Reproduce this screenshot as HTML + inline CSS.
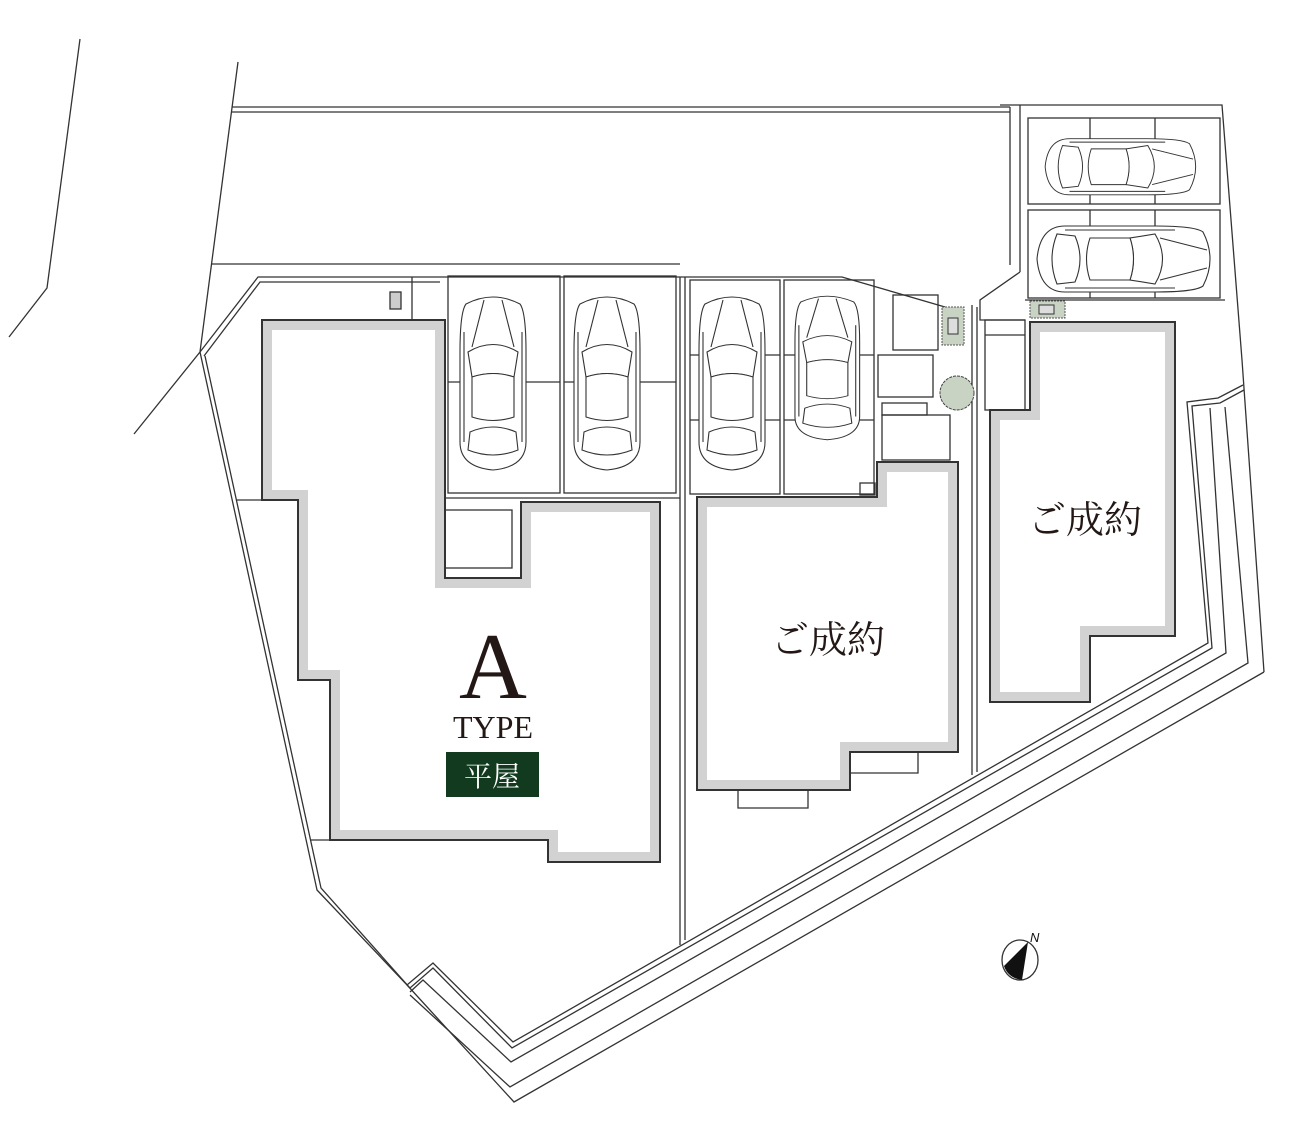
<!DOCTYPE html>
<html><head><meta charset="utf-8"><style>
html,body{margin:0;padding:0;background:#fff}
svg{display:block}
</style></head><body>
<svg width="1300" height="1147" viewBox="0 0 1300 1147" xmlns="http://www.w3.org/2000/svg">
<defs>
<g id="car" fill="#fff" stroke="#333" stroke-width="1.1">
  <path d="M8 12 Q35 -2 62 12 Q68 20 68 60 L68 150 Q68 175 35 178 Q2 175 2 150 L2 60 Q2 20 8 12 Z"/>
  <path d="M10 60 Q35 45 60 60 L56 85 Q35 78 14 85 Z"/>
  <path d="M14 85 Q35 78 56 85 L56 125 Q35 132 14 125 Z"/>
  <path d="M12 140 Q35 130 58 140 L60 158 Q35 168 10 158 Z"/>
  <line x1="14" y1="55" x2="26" y2="8"/><line x1="56" y1="55" x2="44" y2="8"/>
  <line x1="6" y1="40" x2="6" y2="150"/><line x1="64" y1="40" x2="64" y2="150"/>
</g>
</defs>
<g fill="none" stroke="#333" stroke-width="1.3">
  <!-- far left lines -->
  <polyline points="80,39 47,288 9,337"/>
  <polyline points="238,62 200,352 134,434"/>
  <!-- top road -->
  <line x1="232" y1="107" x2="1010" y2="107"/>
  <line x1="232" y1="112" x2="1010" y2="112"/>
  <line x1="211" y1="264" x2="680" y2="264"/>
  <line x1="1010" y1="107" x2="1010" y2="265"/>
  <polyline points="200,352 258,277 680,277"/>
  <polyline points="204,356 260,282 440,282"/>
  <polyline points="680,277 842,277 945,307"/>
  <polyline points="1000,105 1222,105 1242,360 1264,672"/>
  <!-- right parking -->
  <rect x="1028" y="118" width="192" height="86"/>
  <rect x="1028" y="210" width="192" height="88"/>
  <line x1="1090" y1="118" x2="1090" y2="204"/><line x1="1155" y1="118" x2="1155" y2="204"/>
  <line x1="1090" y1="210" x2="1090" y2="298"/><line x1="1155" y1="210" x2="1155" y2="298"/>
  <line x1="1020" y1="105" x2="1020" y2="272"/>
  <polyline points="1020,272 980,300 980,320 1025,320"/>
  <line x1="1025" y1="300" x2="1225" y2="300"/>
  <!-- left lot boundary double -->
  <polyline points="200,352 317,890 407,985 433,963 513,1042 1208,643 1187,402 1218,398 1243,385"/>
  <polyline points="205,356 321,888 410,988 433,968 512,1048 1212,648 1192,406 1220,403 1244,390"/>
  <polyline points="410,992 423,980 511,1062 1226,653 1210,408"/>
  <polyline points="410,995 510,1087 1248,663 1225,407"/>
  <polyline points="407,985 514,1102 1264,672"/>
  <!-- division lines -->
  <line x1="680" y1="277" x2="680" y2="945"/><line x1="685" y1="277" x2="685" y2="940"/>
  <line x1="972" y1="305" x2="972" y2="775"/><line x1="977" y1="307" x2="977" y2="772"/>
  <line x1="236" y1="500" x2="262" y2="500"/><line x1="310" y1="840" x2="330" y2="840"/>
  <!-- parking A -->
  <rect x="448" y="276" width="112" height="217"/><rect x="564" y="276" width="112" height="217"/>
  <line x1="448" y1="382" x2="560" y2="382"/><line x1="564" y1="382" x2="676" y2="382"/>
  <line x1="412" y1="277" x2="412" y2="320"/>
  <line x1="445" y1="498" x2="680" y2="498"/>
  <rect x="445" y="510" width="67" height="58"/>
  <!-- parking B -->
  <rect x="690" y="280" width="90" height="214"/><rect x="784" y="280" width="90" height="214"/>
  <line x1="690" y1="355" x2="780" y2="355"/><line x1="690" y1="420" x2="780" y2="420"/>
  <line x1="784" y1="355" x2="874" y2="355"/><line x1="784" y1="420" x2="874" y2="420"/>
  <rect x="893" y="295" width="45" height="55"/>
  <rect x="878" y="355" width="55" height="42"/>
  <rect x="882" y="403" width="45" height="12"/>
  <rect x="882" y="415" width="68" height="45"/>
  <rect x="860" y="483" width="15" height="12"/>
  <rect x="985" y="320" width="40" height="90"/>
  <line x1="985" y1="335" x2="1025" y2="335"/>
  <rect x="390" y="292" width="11" height="17" fill="#ccc"/>
</g>
<!-- houses -->
<defs>
  <clipPath id="ca"><polygon id="pa" points="262,320 445,320 445,578 521,578 521,502 660,502 660,862 548,862 548,840 330,840 330,680 298,680 298,500 262,500"/></clipPath>
  <clipPath id="cb"><polygon points="697,497 877,497 877,462 958,462 958,752 850,752 850,790 697,790"/></clipPath>
  <clipPath id="cc"><polygon points="1030,322 1175,322 1175,636 1090,636 1090,702 990,702 990,410 1030,410"/></clipPath>
</defs>
<g fill="none" stroke="#d2d2d2" stroke-width="20">
  <polygon clip-path="url(#ca)" points="262,320 445,320 445,578 521,578 521,502 660,502 660,862 548,862 548,840 330,840 330,680 298,680 298,500 262,500"/>
  <polygon clip-path="url(#cb)" points="697,497 877,497 877,462 958,462 958,752 850,752 850,790 697,790"/>
  <polygon clip-path="url(#cc)" points="1030,322 1175,322 1175,636 1090,636 1090,702 990,702 990,410 1030,410"/>
</g>
<g fill="none" stroke="#333" stroke-width="2">
  <polygon points="262,320 445,320 445,578 521,578 521,502 660,502 660,862 548,862 548,840 330,840 330,680 298,680 298,500 262,500"/>
  <polygon points="697,497 877,497 877,462 958,462 958,752 850,752 850,790 697,790"/>
  <polygon points="1030,322 1175,322 1175,636 1090,636 1090,702 990,702 990,410 1030,410"/>
</g>
<g fill="none" stroke="#333" stroke-width="1.3">
  <polyline points="918,752 918,773 850,773"/>
  <polyline points="738,790 738,808 808,808 808,790"/>
</g>
<!-- cars -->
<use href="#car" transform="translate(458,292)"/>
<use href="#car" transform="translate(572,292)"/>
<use href="#car" transform="translate(697,292)"/>
<use href="#car" transform="translate(793,292) scale(0.98,0.83)"/>
<use href="#car" transform="translate(1200,137) rotate(90) scale(0.85,0.87)"/>
<use href="#car" transform="translate(1215,224) rotate(90) scale(1,1)"/>
<!-- greenery -->
<rect x="942" y="307" width="22" height="38" fill="#c9d3c4" stroke="#555" stroke-dasharray="2,1"/>
<rect x="948" y="318" width="10" height="16" fill="#ddd" stroke="#333"/>
<circle cx="957" cy="393" r="17" fill="#c9d3c4" stroke="#444" stroke-dasharray="3,1"/>
<rect x="1030" y="301" width="35" height="17" fill="#c9d3c4" stroke="#555" stroke-dasharray="2,1"/>
<rect x="1039" y="305" width="15" height="9" fill="#ddd" stroke="#333"/>
<!-- labels -->
<text x="493" y="698" text-anchor="middle" font-family="Liberation Serif, serif" font-size="94" fill="#231815">A</text>
<text x="493" y="738" text-anchor="middle" font-family="Liberation Serif, serif" font-size="32" fill="#231815">TYPE</text>
<rect x="446" y="752" width="93" height="45" fill="#123a1f"/>
<text x="492" y="786" text-anchor="middle" font-family="Liberation Serif, 'Noto Serif CJK SC', serif" font-size="28" fill="#fff">平屋</text>
<text x="828" y="653" text-anchor="middle" font-family="Liberation Serif, 'Noto Serif CJK SC', serif" font-size="38" fill="#231815">ご成約</text>
<text x="1085" y="533" text-anchor="middle" font-family="Liberation Serif, 'Noto Serif CJK SC', serif" font-size="38" fill="#231815">ご成約</text>
<!-- north -->
<ellipse cx="1020" cy="960" rx="18" ry="20" fill="#fff" stroke="#333" stroke-width="1.3"/>
<path d="M1028 942 L1022 980 Q1008 978 1004 966 Z" fill="#111"/>
<text x="1030" y="942" font-family="Liberation Sans, sans-serif" font-size="13" font-style="italic" fill="#111">N</text>
</svg>
</body></html>
